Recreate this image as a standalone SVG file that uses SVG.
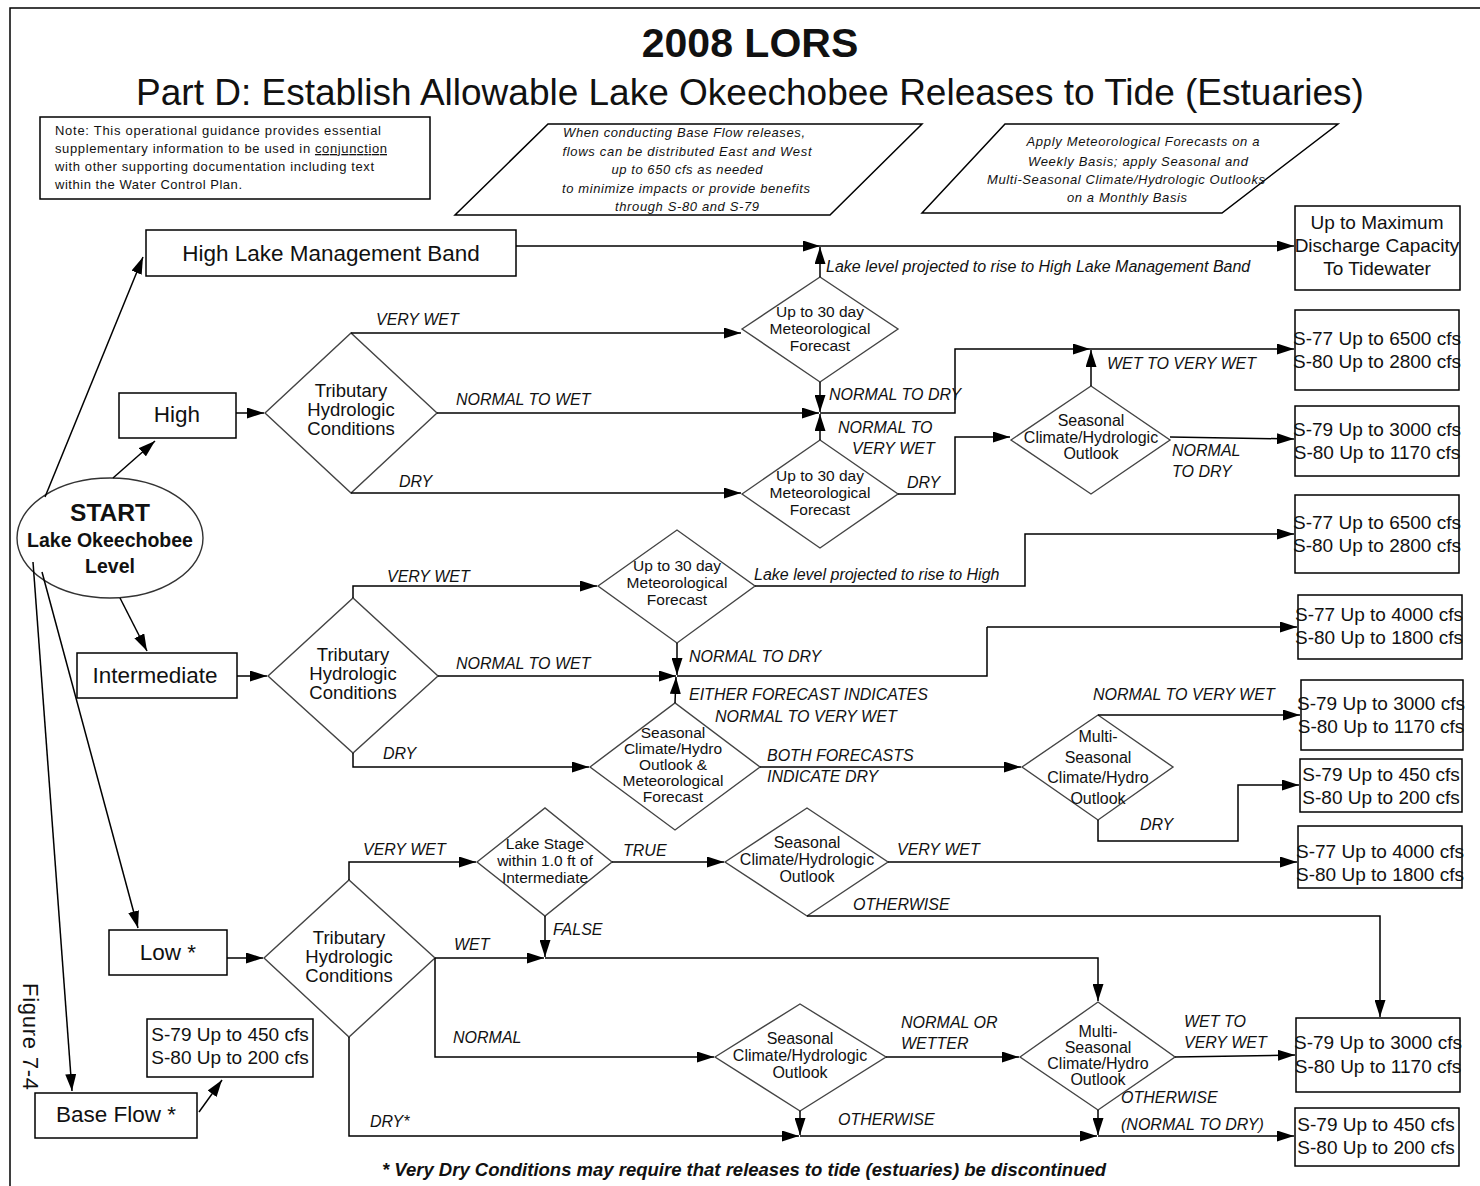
<svg xmlns="http://www.w3.org/2000/svg" width="1480" height="1186" viewBox="0 0 1480 1186">
<defs>
<marker id="ah" markerUnits="userSpaceOnUse" markerWidth="17" markerHeight="11" refX="17" refY="5.5" orient="auto">
<path d="M0,0 L17,5.5 L0,11 z" fill="#000"/>
</marker>
<style>
text{font-family:"Liberation Sans",Arial,sans-serif;fill:#111}
.box{fill:#fff;stroke:#000;stroke-width:1.5}
.dia{fill:#fff;stroke:#444;stroke-width:1.4}
.con{fill:none;stroke:#000;stroke-width:1.5;marker-end:url(#ah)}
.ln{fill:none;stroke:#000;stroke-width:1.5}
.lbl{font-style:italic;font-size:16px}
.dt{font-size:16px;text-anchor:middle}
.dm{font-size:15.5px;text-anchor:middle}
.dtr{font-size:18.5px;text-anchor:middle}
.rt{font-size:19px;text-anchor:middle}
.lv{font-size:22.5px;text-anchor:middle}
.par{font-size:13px;font-style:italic;text-anchor:middle}
.note{font-size:13px}
</style>
</defs>
<rect x="0" y="0" width="1480" height="1186" fill="#fff"/>
<path d="M10,1186 L10,8 L1480,8" fill="none" stroke="#000" stroke-width="1.5"/>

<g id="title">
<text x="750" y="57" font-size="41" font-weight="bold" text-anchor="middle">2008 LORS</text>
<text x="750" y="105" font-size="37" text-anchor="middle">Part D: Establish Allowable Lake Okeechobee Releases to Tide (Estuaries)</text>
</g>

<g id="note">
<rect class="box" x="40" y="117" width="390" height="82"/>
<text class="note" x="55" y="135" textLength="326" lengthAdjust="spacing">Note:  This operational guidance provides essential</text>
<text class="note" x="55" y="153" textLength="332" lengthAdjust="spacing">supplementary information to be used in <tspan text-decoration="underline">conjunction</tspan></text>
<text class="note" x="55" y="171" textLength="319" lengthAdjust="spacing">with other supporting documentation including text</text>
<text class="note" x="55" y="189" textLength="187" lengthAdjust="spacing">within the Water Control Plan.</text>
</g>

<g id="baseflow-note">
<polygon class="box" points="548,124 922,124 830,215 455,215"/>
<text class="par" x="684" y="137" textLength="242" lengthAdjust="spacing">When conducting Base Flow  releases,</text>
<text class="par" x="687" y="156" textLength="249" lengthAdjust="spacing">flows can be distributed East and  West</text>
<text class="par" x="687" y="174" textLength="151" lengthAdjust="spacing">up to 650  cfs as needed</text>
<text class="par" x="686" y="193" textLength="248" lengthAdjust="spacing">to minimize  impacts or provide benefits</text>
<text class="par" x="687" y="211" textLength="144" lengthAdjust="spacing">through S-80  and S-79</text>
</g>

<g id="forecast-note">
<polygon class="box" points="1005,124 1338,124 1222,213 922,213"/>
<text class="par" x="1143" y="146" textLength="233" lengthAdjust="spacing">Apply Meteorological  Forecasts on a</text>
<text class="par" x="1138" y="166" textLength="220" lengthAdjust="spacing">Weekly Basis; apply Seasonal  and</text>
<text class="par" x="1126" y="184" textLength="278" lengthAdjust="spacing">Multi-Seasonal Climate/Hydrologic Outlooks</text>
<text class="par" x="1127" y="202" textLength="120" lengthAdjust="spacing">on a Monthly Basis</text>
</g>

<g id="start">
<ellipse cx="110" cy="538" rx="93" ry="60" fill="#fff" stroke="#333" stroke-width="1.4"/>
<text x="110" y="521" font-size="24.5" font-weight="bold" text-anchor="middle">START</text>
<text x="110" y="547" font-size="19.5" font-weight="bold" text-anchor="middle">Lake Okeechobee</text>
<text x="110" y="573" font-size="19.5" font-weight="bold" text-anchor="middle">Level</text>
</g>

<g id="figure-label">
<text x="0" y="0" font-size="22" transform="translate(23,983) rotate(90)" textLength="107" lengthAdjust="spacing">Figure  7-4</text>
</g>

<g id="hlmb"><rect class="box" x="146" y="230" width="370" height="46"/><text class="lv" x="331" y="261">High Lake Management Band</text></g>
<g id="high"><rect class="box" x="119" y="393" width="117" height="45"/><text class="lv" x="177" y="422">High</text></g>
<g id="intermediate"><rect class="box" x="77" y="653" width="160" height="45"/><text class="lv" x="155" y="683">Intermediate</text></g>
<g id="low"><rect class="box" x="109" y="930" width="118" height="45"/><text class="lv" x="168" y="960">Low *</text></g>
<g id="baseflow"><rect class="box" x="35" y="1093" width="162" height="45"/><text class="lv" x="116" y="1122">Base Flow *</text></g>
<g id="bf-result"><rect class="box" x="147" y="1019" width="166" height="58"/><text class="rt" x="230" y="1041">S-79 Up to  450 cfs</text><text class="rt" x="230" y="1064">S-80 Up to  200 cfs</text></g>

<!-- High row diamonds -->
<g id="trib-high"><polygon class="dia" points="265,413 351,333 437,413 351,493"/>
<text class="dtr" x="351" y="397">Tributary</text><text class="dtr" x="351" y="416">Hydrologic</text><text class="dtr" x="351" y="435">Conditions</text></g>
<g id="met-high-1"><polygon class="dia" points="742,329 820,277 898,329 820,382"/>
<text class="dm" x="820" y="317">Up to 30 day</text><text class="dm" x="820" y="334">Meteorological</text><text class="dm" x="820" y="351">Forecast</text></g>
<g id="met-high-2"><polygon class="dia" points="742,494 820,440 898,494 820,548"/>
<text class="dm" x="820" y="481">Up to 30 day</text><text class="dm" x="820" y="498">Meteorological</text><text class="dm" x="820" y="515">Forecast</text></g>
<g id="seas-high"><polygon class="dia" points="1011,440 1091,386 1170,440 1091,494"/>
<text class="dt" x="1091" y="426">Seasonal</text><text class="dt" x="1091" y="443">Climate/Hydrologic</text><text class="dt" x="1091" y="459">Outlook</text></g>

<!-- Intermediate row diamonds -->
<g id="trib-int"><polygon class="dia" points="268,676 353,598 438,676 353,753"/>
<text class="dtr" x="353" y="661">Tributary</text><text class="dtr" x="353" y="680">Hydrologic</text><text class="dtr" x="353" y="699">Conditions</text></g>
<g id="met-int"><polygon class="dia" points="598,586 677,530 755,586 677,643"/>
<text class="dm" x="677" y="571">Up to 30 day</text><text class="dm" x="677" y="588">Meteorological</text><text class="dm" x="677" y="605">Forecast</text></g>
<g id="combo-int"><polygon class="dia" points="590,767 675,703 760,767 675,830"/>
<text class="dm" x="673" y="738">Seasonal</text><text class="dm" x="673" y="754">Climate/Hydro</text><text class="dm" x="673" y="770">Outlook &amp;</text><text class="dm" x="673" y="786">Meteorological</text><text class="dm" x="673" y="802">Forecast</text></g>
<g id="multi-int"><polygon class="dia" points="1022,767 1098,715 1173,767 1098,820"/>
<text class="dt" x="1098" y="742">Multi-</text><text class="dt" x="1098" y="763">Seasonal</text><text class="dt" x="1098" y="783">Climate/Hydro</text><text class="dt" x="1098" y="804">Outlook</text></g>

<!-- Low row diamonds -->
<g id="trib-low"><polygon class="dia" points="264,958 349,880 435,958 349,1037"/>
<text class="dtr" x="349" y="944">Tributary</text><text class="dtr" x="349" y="963">Hydrologic</text><text class="dtr" x="349" y="982">Conditions</text></g>
<g id="lakestage"><polygon class="dia" points="477,862 545,808 612,862 545,916"/>
<text class="dm" x="545" y="849">Lake Stage</text><text class="dm" x="545" y="866">within 1.0 ft of</text><text class="dm" x="545" y="883">Intermediate</text></g>
<g id="seas-low-1"><polygon class="dia" points="725,862 807,808 888,862 807,916"/>
<text class="dt" x="807" y="848">Seasonal</text><text class="dt" x="807" y="865">Climate/Hydrologic</text><text class="dt" x="807" y="882">Outlook</text></g>
<g id="seas-low-2"><polygon class="dia" points="715,1057 800,1004 886,1057 800,1111"/>
<text class="dt" x="800" y="1044">Seasonal</text><text class="dt" x="800" y="1061">Climate/Hydrologic</text><text class="dt" x="800" y="1078">Outlook</text></g>
<g id="multi-low"><polygon class="dia" points="1020,1057 1098,1002 1175,1057 1098,1110"/>
<text class="dt" x="1098" y="1037">Multi-</text><text class="dt" x="1098" y="1053">Seasonal</text><text class="dt" x="1098" y="1069">Climate/Hydro</text><text class="dt" x="1098" y="1085">Outlook</text></g>

<!-- Result boxes -->
<g id="r-max"><rect class="box" x="1295" y="206" width="165" height="84"/><text class="rt" x="1377" y="229">Up to Maximum</text><text class="rt" x="1377" y="252">Discharge Capacity</text><text class="rt" x="1377" y="275">To Tidewater</text></g>
<g id="r1"><rect class="box" x="1295" y="310" width="164" height="80"/><text class="rt" x="1377" y="345">S-77 Up to  6500 cfs</text><text class="rt" x="1377" y="368">S-80 Up to  2800 cfs</text></g>
<g id="r2"><rect class="box" x="1295" y="406" width="164" height="70"/><text class="rt" x="1377" y="436">S-79 Up to  3000 cfs</text><text class="rt" x="1377" y="459">S-80 Up to  1170 cfs</text></g>
<g id="r3"><rect class="box" x="1295" y="495" width="164" height="78"/><text class="rt" x="1377" y="529">S-77 Up to  6500 cfs</text><text class="rt" x="1377" y="552">S-80 Up to  2800 cfs</text></g>
<g id="r4"><rect class="box" x="1298" y="595" width="164" height="64"/><text class="rt" x="1379" y="621">S-77 Up to  4000 cfs</text><text class="rt" x="1379" y="644">S-80 Up to  1800 cfs</text></g>
<g id="r5"><rect class="box" x="1301" y="680" width="162" height="70"/><text class="rt" x="1381" y="710">S-79 Up to  3000 cfs</text><text class="rt" x="1381" y="733">S-80 Up to  1170 cfs</text></g>
<g id="r6"><rect class="box" x="1300" y="759" width="162" height="53"/><text class="rt" x="1381" y="781">S-79 Up to  450 cfs</text><text class="rt" x="1381" y="804">S-80 Up to  200 cfs</text></g>
<g id="r7"><rect class="box" x="1298" y="826" width="164" height="62"/><text class="rt" x="1380" y="858">S-77 Up to  4000 cfs</text><text class="rt" x="1380" y="881">S-80 Up to  1800 cfs</text></g>
<g id="r8"><rect class="box" x="1296" y="1018" width="164" height="74"/><text class="rt" x="1378" y="1049">S-79 Up to  3000 cfs</text><text class="rt" x="1378" y="1073">S-80 Up to  1170 cfs</text></g>
<g id="r9"><rect class="box" x="1295" y="1108" width="164" height="58"/><text class="rt" x="1376" y="1131">S-79 Up to  450 cfs</text><text class="rt" x="1376" y="1154">S-80 Up to  200 cfs</text></g>

<g id="connectors">
<line class="con" x1="45" y1="497" x2="143" y2="257"/>
<line class="con" x1="113" y1="478" x2="155" y2="441"/>
<line class="con" x1="120" y1="598" x2="147" y2="651"/>
<line class="con" x1="42" y1="572" x2="138" y2="928"/>
<line class="con" x1="33" y1="562" x2="72" y2="1091"/>
<line class="con" x1="199" y1="1112" x2="222" y2="1080"/>

<polyline class="con" points="516,246 820,246"/>
<polyline class="con" points="820,246 1294,246"/>
<polyline class="con" points="820,277 820,247"/>

<polyline class="con" points="236,413 264,413"/>
<polyline class="con" points="351,333 741,333"/>
<polyline class="con" points="437,413 819,413"/>
<polyline class="con" points="351,493 741,493"/>
<polyline class="con" points="820,382 820,412"/>
<polyline class="con" points="820,440 820,414"/>
<polyline class="con" points="820,413 955,413 955,349 1090,349"/>
<polyline class="con" points="1091,386 1091,350"/>
<polyline class="con" points="1090,349 1294,349"/>
<polyline class="con" points="898,494 955,494 955,437 1010,437"/>
<polyline class="con" points="1170,437 1294,439"/>

<polyline class="con" points="237,676 267,676"/>
<polyline class="con" points="353,598 353,586 597,586"/>
<polyline class="con" points="438,676 676,676"/>
<polyline class="con" points="677,643 677,675"/>
<polyline class="con" points="675,703 676,677"/>
<polyline class="ln" points="677,676 987,676 987,627"/>
<polyline class="con" points="987,627 1297,627"/>
<polyline class="con" points="755,586 1025,586 1025,534 1294,534"/>
<polyline class="con" points="353,753 353,767 589,767"/>
<polyline class="con" points="760,767 1021,767"/>
<polyline class="con" points="1098,715 1300,715"/>
<polyline class="con" points="1098,820 1098,841 1238,841 1238,785 1299,785"/>

<polyline class="con" points="227,958 263,958"/>
<polyline class="con" points="349,880 349,862 476,862"/>
<polyline class="con" points="612,862 724,862"/>
<polyline class="con" points="888,862 1297,862"/>
<polyline class="con" points="807,916 1380,916 1380,1017"/>
<polyline class="con" points="545,916 545,957"/>
<polyline class="con" points="435,958 544,958"/>
<polyline class="con" points="545,958 1098,958 1098,1001"/>
<polyline class="con" points="435,958 435,1057 714,1057"/>
<polyline class="con" points="886,1057 1019,1057"/>
<polyline class="con" points="1175,1057 1295,1055"/>
<polyline class="con" points="800,1111 800,1135"/>
<polyline class="con" points="349,1037 349,1136 799,1136"/>
<polyline class="con" points="800,1136 1097,1136"/>
<polyline class="con" points="1098,1110 1098,1135"/>
<polyline class="con" points="1098,1136 1294,1136"/>
</g>

<g id="labels">
<text class="lbl" x="826" y="272">Lake level projected to rise to High Lake Management Band</text>
<text class="lbl" x="376" y="325">VERY  WET</text>
<text class="lbl" x="456" y="405">NORMAL TO  WET</text>
<text class="lbl" x="399" y="487">DRY</text>
<text class="lbl" x="829" y="400">NORMAL TO  DRY</text>
<text class="lbl" x="838" y="433">NORMAL TO</text>
<text class="lbl" x="852" y="454">VERY WET</text>
<text class="lbl" x="907" y="488">DRY</text>
<text class="lbl" x="1107" y="369">WET TO VERY WET</text>
<text class="lbl" x="1172" y="456">NORMAL</text>
<text class="lbl" x="1172" y="477">TO  DRY</text>

<text class="lbl" x="387" y="582">VERY  WET</text>
<text class="lbl" x="754" y="580">Lake level projected to rise to High</text>
<text class="lbl" x="456" y="669">NORMAL TO  WET</text>
<text class="lbl" x="689" y="662">NORMAL TO  DRY</text>
<text class="lbl" x="689" y="700">EITHER FORECAST INDICATES</text>
<text class="lbl" x="715" y="722">NORMAL TO VERY WET</text>
<text class="lbl" x="383" y="759">DRY</text>
<text class="lbl" x="767" y="761">BOTH FORECASTS</text>
<text class="lbl" x="767" y="782">INDICATE  DRY</text>
<text class="lbl" x="1093" y="700">NORMAL TO VERY WET</text>
<text class="lbl" x="1140" y="830">DRY</text>

<text class="lbl" x="363" y="855">VERY WET</text>
<text class="lbl" x="623" y="856">TRUE</text>
<text class="lbl" x="897" y="855">VERY WET</text>
<text class="lbl" x="853" y="910">OTHERWISE</text>
<text class="lbl" x="553" y="935">FALSE</text>
<text class="lbl" x="454" y="950">WET</text>
<text class="lbl" x="453" y="1043">NORMAL</text>
<text class="lbl" x="901" y="1028">NORMAL OR</text>
<text class="lbl" x="901" y="1049">WETTER</text>
<text class="lbl" x="1184" y="1027">WET TO</text>
<text class="lbl" x="1184" y="1048">VERY WET</text>
<text class="lbl" x="370" y="1127">DRY*</text>
<text class="lbl" x="838" y="1125">OTHERWISE</text>
<text class="lbl" x="1121" y="1103">OTHERWISE</text>
<text class="lbl" x="1121" y="1130">(NORMAL TO DRY)</text>
</g>

<g id="footer">
<text x="744" y="1176" font-size="18.5" font-weight="bold" font-style="italic" text-anchor="middle">* Very Dry Conditions  may require that releases to tide (estuaries) be discontinued</text>
</g>
</svg>
